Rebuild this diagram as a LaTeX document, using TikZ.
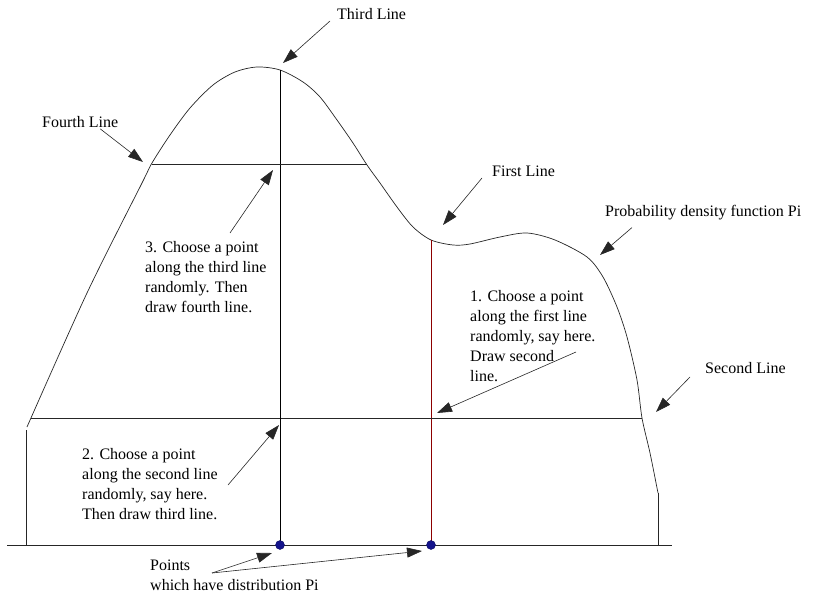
\documentclass[tikz,border=0pt]{standalone}
\usepackage{fontspec}
\setmainfont{Liberation Serif}
\usetikzlibrary{arrows.meta}

\definecolor{linered}{RGB}{140,0,0}
\definecolor{dotblue}{RGB}{20,20,140}

\tikzset{
  lbl/.style={inner sep=0pt, font=\fontsize{16}{20}\selectfont},
  note/.style={lbl, align=left, anchor=north west},
  pointer/.style={draw=black!85, line width=0.6pt, -{Triangle[length=15pt,width=10pt]}},
  curve/.style={line width=0.7pt, black!85},
  sample/.style={circle, fill=dotblue, draw=dotblue!70!black, inner sep=0pt, minimum size=9pt},
}

\begin{document}
\begin{tikzpicture}[x=1pt,y=-1pt]
  \useasboundingbox (0,0) rectangle (822,594);
  % density Pi
  \draw[curve] (7,545) -- (672,545);
  \draw[curve] (26,545) -- (26,430);
  \draw[curve] plot[smooth,tension=0.5] coordinates {(27,427) (87,293) (142,183) (152,163)
      (170,135) (190,108) (213,85) (235,72) (257,67) (280,70) (303,82) (320,97) (337,120)
      (353,143) (367,165) (380,183) (397,207) (413,227) (431,240) (453,245) (470,244)
      (500,237) (527,233) (555,240) (587,257) (603,277) (617,307) (627,337) (637,380)
      (642,418) (650,453) (658,493)};
  \draw[curve] (658,493) -- (658,545);
  % the four lines
  \draw[linered, line width=0.7pt] (431,240) -- (431,545);
  \draw[curve] (31,418) -- (642,418);
  \draw[curve, black] (280,70) -- (280,545);
  \draw[curve] (152,164) -- (367,164);
  \node[sample] (dota) at (280,545) {};
  \node[sample] (dotb) at (431,545) {};

  % labels
  \node[lbl, anchor=west] (third) at (337,14) {Third Line};
  \node[lbl, anchor=west] (fourth) at (42,122) {Fourth Line};
  \node[lbl, anchor=west] (first) at (492,171) {First Line};
  \node[lbl, anchor=west] (pdf) at (605,213) {Probability density function Pi};
  \node[lbl, anchor=west] (second) at (705,368) {Second Line};
  \node[note] (stepone) at (470,290) {1. Choose a point\\along the first line\\randomly, say here.\\Draw second\\line.};
  \node[note] (steptwo) at (82,448) {2. Choose a point\\along the second line\\randomly, say here.\\Then draw third line.};
  \node[note] (stepthree) at (145,241) {3. Choose a point\\along the third line\\randomly. Then\\draw fourth line.};
  \node[note] (points) at (150,560) {Points\\which have distribution Pi};

  \coordinate (ptail) at (212,573);
  \coordinate (thirdtip) at (283,63);
  \coordinate (fourthtip) at (143,162);
  \coordinate (firsttip) at (443,225);
  \coordinate (pdftip) at (600,255);
  \coordinate (secondtip) at (656,412);
  \coordinate (onetip) at (437,413);
  \coordinate (twotip) at (279,425);
  \coordinate (threetip) at (273,170);

  % pointers
  \draw[pointer] ([xshift=-7pt,yshift=-7pt]third.west) -- (thirdtip);
  \draw[pointer] ([xshift=20pt,yshift=-1pt]fourth.south) -- (fourthtip);
  \draw[pointer] ([xshift=-10pt,yshift=-7pt]first.west) -- (firsttip);
  \draw[pointer] ([xshift=27pt,yshift=-7pt]pdf.south west) -- (pdftip);
  \draw[pointer] ([xshift=-15pt,yshift=-9pt]second.west) -- (secondtip);
  \draw[pointer] (576,352) -- (onetip);
  \draw[pointer] (228,485) -- (twotip);
  \draw[pointer] (230,233) -- (threetip);
  \draw[pointer] (ptail) -- (272,553);
  \draw[pointer] (ptail) -- (422,551);
\end{tikzpicture}
\end{document}
